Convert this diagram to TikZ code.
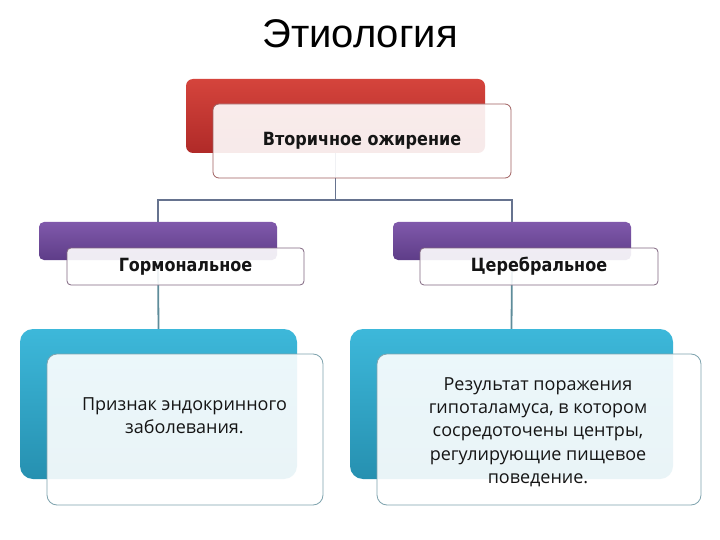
\documentclass[tikz,border=0pt]{standalone}
\usepackage{fontspec}
\setmainfont{Open Sans}
\newfontfamily\titlefont{Liberation Sans}
\newfontfamily\lblfont[FakeStretch=0.88]{DejaVu Sans}
\definecolor{redA}{HTML}{D5443C}
\definecolor{redB}{HTML}{B02A28}
\definecolor{purA}{HTML}{8059AB}
\definecolor{purB}{HTML}{5E3D88}
\definecolor{bluA}{HTML}{3DB8DA}
\definecolor{bluB}{HTML}{2690B0}
\definecolor{connc}{HTML}{66738F}
\definecolor{connb}{HTML}{5E8C9A}
\definecolor{txt}{HTML}{151515}
\tikzset{
  backbox/.style={rounded corners=7pt, inner sep=0pt, draw=none},
  frontbox/.style={rounded corners=6pt, inner sep=0pt, fill=white, fill opacity=0.9, text opacity=1, line width=0.8pt},
  lbl/.style={font=\lblfont\bfseries\fontsize{18.2}{22}\selectfont, text=txt},
  body/.style={font=\fontsize{18}{23.3}\selectfont, text=txt, align=center},
  conn/.style={line width=1.8pt, draw=connc},
  connl/.style={line width=1.8pt, draw=connb}
}
\begin{document}
\begin{tikzpicture}[x=1pt,y=-1pt]
\useasboundingbox (0,0) rectangle (720,540);
\fill[white] (0,0) rectangle (720,540);
% title
\node[font=\titlefont\fontsize{40}{44}\selectfont, text=black] (title) at (360,34) {Этиология};
% back boxes
\node[backbox, top color=redA, bottom color=redB, minimum width=299pt, minimum height=74pt] (red) at (335.5,116) {};
\node[backbox, top color=purA, bottom color=purB, rounded corners=5pt, minimum width=238pt, minimum height=38pt] (lp) at (158,241) {};
\node[backbox, top color=purA, bottom color=purB, rounded corners=5pt, minimum width=238pt, minimum height=38pt] (rp) at (512,241) {};
\node[backbox, top color=bluA, bottom color=bluB, rounded corners=13pt, minimum width=277pt, minimum height=150pt] (lb) at (158.5,404) {};
\node[backbox, top color=bluA, bottom color=bluB, rounded corners=13pt, minimum width=323pt, minimum height=150pt] (rb) at (511.5,404) {};
% connectors
\coordinate (j) at (335.5,200);
\draw[conn] (red.south) -- (j) -| (lp.north);
\draw[conn] (j) -| (rp.north);
\draw[connl] (lp.south) -- (lb.north);
\draw[connl] (rp.south) -- (rb.north);
% front boxes
\node[frontbox, draw=gray!75!red, minimum width=298pt, minimum height=74pt, lbl] (top) at (362,141) {Вторичное ожирение};
\node[frontbox, draw=gray!80!violet, rounded corners=4pt, minimum width=237pt, minimum height=37pt, lbl] (lf) at (185.5,266.5) {Гормональное};
\node[frontbox, draw=gray!80!violet, rounded corners=4pt, minimum width=238pt, minimum height=37pt, lbl] (rf) at (539,266.5) {Церебральное};
\node[frontbox, draw=connb!80, rounded corners=10pt, minimum width=276pt, minimum height=151pt] (lbf) at (185,429.5) {};
\node[frontbox, draw=connb!80, rounded corners=10pt, minimum width=324pt, minimum height=151pt] (rbf) at (539,429.5) {};
% texts
\node[body] (ltxt) at (184.5,416) {Признак эндокринного\\заболевания.};
\node[body] (rtxt) at (538,432) {Результат поражения\\гипоталамуса,  в котором\\сосредоточены центры,\\регулирующие пищевое\\поведение.};
\end{tikzpicture}
\end{document}
